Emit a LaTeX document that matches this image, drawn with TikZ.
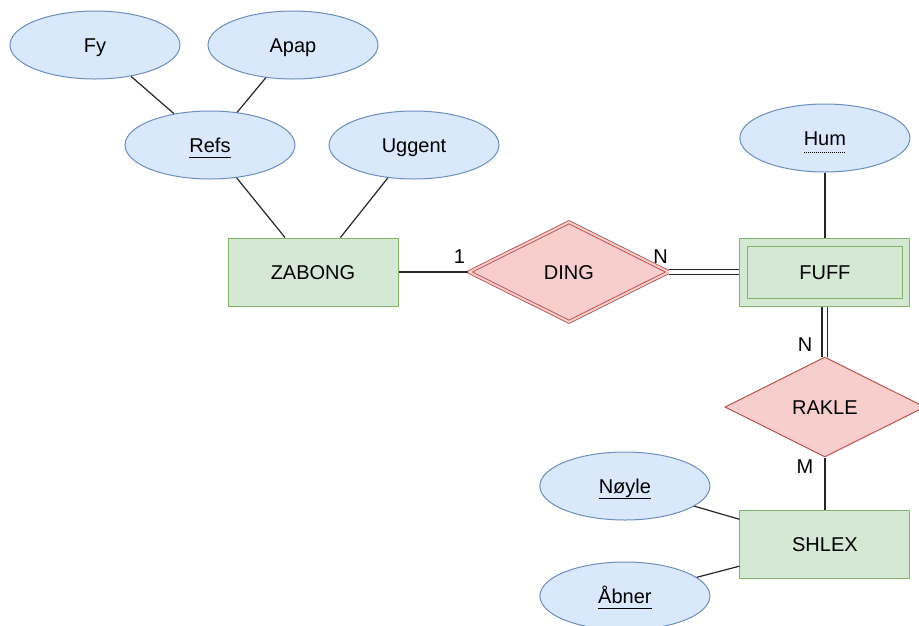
\documentclass[tikz,border=0pt]{standalone}
\usepackage{fontspec}
\setmainfont{Liberation Sans}
\usepackage{xcolor}
\usepackage{tikz}
\usetikzlibrary{shapes.geometric,positioning}
\definecolor{attrblue}{RGB}{218,232,252}
\definecolor{attrline}{RGB}{108,142,191}
\definecolor{entgreen}{RGB}{213,232,212}
\definecolor{entline}{RGB}{130,179,102}
\definecolor{relred}{RGB}{248,206,204}
\definecolor{relline}{RGB}{184,84,80}
\newsavebox{\keybox}
\newcommand{\keyattr}[1]{\sbox{\keybox}{#1}\rlap{\rule[-5pt]{\wd\keybox}{1pt}}\usebox{\keybox}}
\newcommand{\partkey}[1]{\sbox{\keybox}{#1}\rlap{\raisebox{-7.5pt}{\hbox to \wd\keybox{\leaders\hbox to 2pt{\hss\rule{1pt}{0.9pt}\hss}\hfill}}}\usebox{\keybox}}

\begin{document}
\begin{tikzpicture}[
    every node/.style={font=\fontsize{20pt}{24pt}\selectfont},
    attribute/.style={ellipse,draw=attrline,fill=attrblue,line width=1pt,minimum width=170pt,minimum height=68pt,inner sep=0pt,text height=15pt,text depth=0pt},
    entity/.style={rectangle,draw=entline,fill=entgreen,line width=1pt,minimum width=170pt,minimum height=68pt,inner sep=0pt,text height=15pt,text depth=0pt},
    relation/.style={diamond,aspect=2,draw=relline,fill=relred,line width=1pt,minimum width=200pt,minimum height=100pt,inner sep=0pt,text height=15pt,text depth=0pt},
    link/.style={draw=black!85,line width=1.2pt},
    doublelink/.style={draw=black!85,line width=1.2pt,double=white,double distance=4.5pt},
    card/.style={inner sep=0pt}
]
    \useasboundingbox[fill=white] (0,0) rectangle (919pt,-625pt);

    \node[entity] (zabong) at (313pt,-272pt) {ZABONG};
    \node[relation,right=70pt of zabong,line width=0.9pt,double=relred,double distance=2pt] (ding) {DING};
    \node[entity,right=70pt of ding] (fuff) {FUFF};
    \draw[draw=entline,line width=1pt] ([shift={(8pt,-8.5pt)}]fuff.north west) rectangle ([shift={(-8pt,8.5pt)}]fuff.south east);
    \node[attribute,above=65pt of fuff] (hum) {\partkey{Hum}};
    \node[relation,below=50pt of fuff] (rakle) {RAKLE};
    \node[entity,below=52pt of rakle] (shlex) {SHLEX};
    \node[attribute,left=29pt of shlex,yshift=58pt] (noyle) {\keyattr{Nøyle}};
    \node[attribute,left=29pt of shlex,yshift=-52pt] (abner) {\keyattr{Åbner}};

    \node[attribute,above=58pt of zabong,xshift=-103pt] (refs) {\keyattr{Refs}};
    \node[attribute,above=58pt of zabong,xshift=101pt] (uggent) {Uggent};
    \node[attribute,above=31pt of refs,xshift=-115pt] (fy) {Fy};
    \node[attribute,above=31pt of refs,xshift=83pt] (apap) {Apap};

    \draw[link] (fy) -- (refs);
    \draw[link] (apap) -- (refs);
    \draw[link] (refs) -- (zabong);
    \draw[link] (uggent) -- (zabong);
    \draw[link] (hum) -- (fuff);
    \draw[link] (noyle) -- (shlex);
    \draw[link] (abner) -- (shlex);

    \draw[link] (zabong) -- node[card,pos=1,above left=8pt and 3pt] {1} (ding);
    \draw[doublelink] (ding) -- node[card,pos=0,above left=8pt and 1pt] {N} (fuff);
    \draw[doublelink] (fuff) -- node[card,pos=1,above left=4pt and 12pt] {N} (rakle);
    \draw[link] (rakle) -- node[card,pos=0,below left=2pt and 11pt] {M} (shlex);
\end{tikzpicture}
\end{document}
